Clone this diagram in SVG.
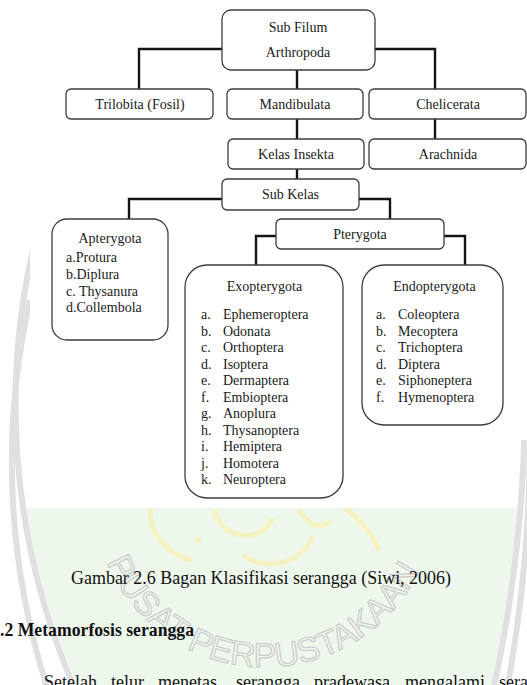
<svg xmlns="http://www.w3.org/2000/svg" width="527" height="685" viewBox="0 0 527 685">
<style>
  .box{fill:#fff;stroke:#3c3c3c;stroke-width:1.3}
  .t{font-family:"Liberation Serif","Times New Roman",serif;font-size:14px;fill:#1a1a1a}
  .c{text-anchor:middle}
  .conn{fill:none;stroke:#141414;stroke-width:2.4}
  .wm{fill:none;stroke:#e0e0e0;stroke-width:6}
  .cal{fill:none;stroke:#f5f2c2;stroke-width:5;stroke-linecap:round}
  .page{font-family:"Liberation Serif","Times New Roman",serif;font-size:18px;fill:#111}
</style>
<defs>
  <path id="wmArc" d="M 95.6 524.9 A 172 172 0 0 0 434.4 524.9"/>
</defs>
<rect x="0" y="0" width="527" height="685" fill="#fff"/>
<g id="watermark">
  <path d="M 24.7 508 A 707 707 0 0 0 80 690 L 491 690 A 1338 1338 0 0 0 520 508 Z" fill="#eef7ec"/>
  <path class="wm" d="M 46 200 A 707 707 0 0 0 80 700"/>
  <path class="wm" d="M 30 300 A 735 735 0 0 0 48 690"/>
  <path class="wm" d="M 509 200 A 1338 1338 0 0 1 491 700"/>
  <path class="wm" d="M 529 400 A 1350 1350 0 0 1 505 700"/>
  <path class="cal" d="M 150 508 C 148 530 165 552 190 560"/>
  <circle cx="198" cy="540" r="3" fill="#f5f2c2"/>
  <path class="cal" d="M 215 512 C 222 538 258 545 272 520"/>
  <path class="cal" d="M 245 556 C 262 570 300 566 312 538"/>
  <path class="cal" d="M 300 512 C 310 525 318 530 330 522"/>
  <path class="cal" d="M 345 508 C 360 520 372 532 378 548"/>
  <text font-family="'Liberation Sans',Arial,sans-serif" font-size="34" fill="none" stroke="#cccccc" stroke-width="1.2"><textPath href="#wmArc" startOffset="39">PUSAT PERPUSTAKAAN</textPath></text>
</g>
<path d="M 30 0 H 527 V 440 H 513 V 508 H 30 Z" fill="#fff"/>
<g id="connectors">
  <path class="conn" d="M 222 49 H 139 V 89"/>
  <path class="conn" d="M 375 49 H 435 V 89"/>
  <path class="conn" d="M 297 70 V 89"/>
  <path class="conn" d="M 297 119 V 139"/>
  <path class="conn" d="M 435 119 V 139"/>
  <path class="conn" d="M 297 169 V 179"/>
  <path class="conn" d="M 222 199 H 129 V 219"/>
  <path class="conn" d="M 359 199 H 390 V 219"/>
  <path class="conn" d="M 276 236 H 256 V 265"/>
  <path class="conn" d="M 444 236 H 465 V 265"/>
</g>
<g id="n-arthropoda">
  <rect class="box" x="222" y="10" width="153" height="60" rx="9"/>
  <text class="t c" x="298" y="32">Sub Filum</text>
  <text class="t c" x="298" y="57">Arthropoda</text>
</g>
<g id="n-trilobita">
  <rect class="box" x="66" y="89" width="147" height="30" rx="5"/>
  <text class="t c" x="140" y="109">Trilobita (Fosil)</text>
</g>
<g id="n-mandibulata">
  <rect class="box" x="227" y="89" width="136" height="30" rx="5"/>
  <text class="t c" x="295" y="109">Mandibulata</text>
</g>
<g id="n-chelicerata">
  <rect class="box" x="369" y="89" width="157" height="30" rx="5"/>
  <text class="t c" x="448" y="109">Chelicerata</text>
</g>
<g id="n-insekta">
  <rect class="box" x="228" y="139" width="136" height="30" rx="5"/>
  <text class="t c" x="296" y="159">Kelas Insekta</text>
</g>
<g id="n-arachnida">
  <rect class="box" x="369" y="139" width="157" height="30" rx="5"/>
  <text class="t c" x="448" y="159">Arachnida</text>
</g>
<g id="n-subkelas">
  <rect class="box" x="222" y="179" width="137" height="31" rx="5"/>
  <text class="t c" x="290.5" y="199">Sub Kelas</text>
</g>
<g id="n-pterygota">
  <rect class="box" x="276" y="219" width="168" height="30" rx="5"/>
  <text class="t c" x="360" y="239">Pterygota</text>
</g>
<g id="n-apterygota">
  <rect class="box" x="52" y="219" width="116" height="121" rx="15"/>
  <text class="t c" x="110" y="243">Apterygota</text>
  <text class="t" x="66" y="262">a.Protura</text>
  <text class="t" x="66" y="279">b.Diplura</text>
  <text class="t" x="66" y="296">c. Thysanura</text>
  <text class="t" x="66" y="312">d.Collembola</text>
</g>
<g id="n-exopterygota">
  <rect class="box" x="185" y="265" width="158" height="233" rx="22"/>
  <text class="t c" x="264.5" y="291">Exopterygota</text>
  <text class="t" x="201" y="319">a.</text><text class="t" x="223" y="319">Ephemeroptera</text>
  <text class="t" x="201" y="335.5">b.</text><text class="t" x="223" y="335.5">Odonata</text>
  <text class="t" x="201" y="352">c.</text><text class="t" x="223" y="352">Orthoptera</text>
  <text class="t" x="201" y="368.5">d.</text><text class="t" x="223" y="368.5">Isoptera</text>
  <text class="t" x="201" y="385">e.</text><text class="t" x="223" y="385">Dermaptera</text>
  <text class="t" x="201" y="401.5">f.</text><text class="t" x="223" y="401.5">Embioptera</text>
  <text class="t" x="201" y="418">g.</text><text class="t" x="223" y="418">Anoplura</text>
  <text class="t" x="201" y="434.5">h.</text><text class="t" x="223" y="434.5">Thysanoptera</text>
  <text class="t" x="201" y="451">i.</text><text class="t" x="223" y="451">Hemiptera</text>
  <text class="t" x="201" y="467.5">j.</text><text class="t" x="223" y="467.5">Homotera</text>
  <text class="t" x="201" y="484">k.</text><text class="t" x="223" y="484">Neuroptera</text>
</g>
<g id="n-endopterygota">
  <rect class="box" x="362" y="265" width="141" height="160" rx="22"/>
  <text class="t c" x="434.5" y="291">Endopterygota</text>
  <text class="t" x="376" y="319">a.</text><text class="t" x="398" y="319">Coleoptera</text>
  <text class="t" x="376" y="335.5">b.</text><text class="t" x="398" y="335.5">Mecoptera</text>
  <text class="t" x="376" y="352">c.</text><text class="t" x="398" y="352">Trichoptera</text>
  <text class="t" x="376" y="368.5">d.</text><text class="t" x="398" y="368.5">Diptera</text>
  <text class="t" x="376" y="385">e.</text><text class="t" x="398" y="385">Siphoneptera</text>
  <text class="t" x="376" y="401.5">f.</text><text class="t" x="398" y="401.5">Hymenoptera</text>
</g>
<g id="page-text">
  <text class="page" x="71" y="584" textLength="380" lengthAdjust="spacingAndGlyphs">Gambar 2.6 Bagan Klasifikasi serangga (Siwi, 2006)</text>
  <text class="page" x="0" y="636" font-weight="bold" textLength="194" lengthAdjust="spacingAndGlyphs">.2 Metamorfosis serangga</text>
  <text class="page" y="688"><tspan x="44">Setelah</tspan><tspan x="111">telur</tspan><tspan x="158">menetas,</tspan><tspan x="236">serangga</tspan><tspan x="314">pradewasa</tspan><tspan x="405">mengalami</tspan><tspan x="499">sera</tspan></text>
</g>
</svg>
